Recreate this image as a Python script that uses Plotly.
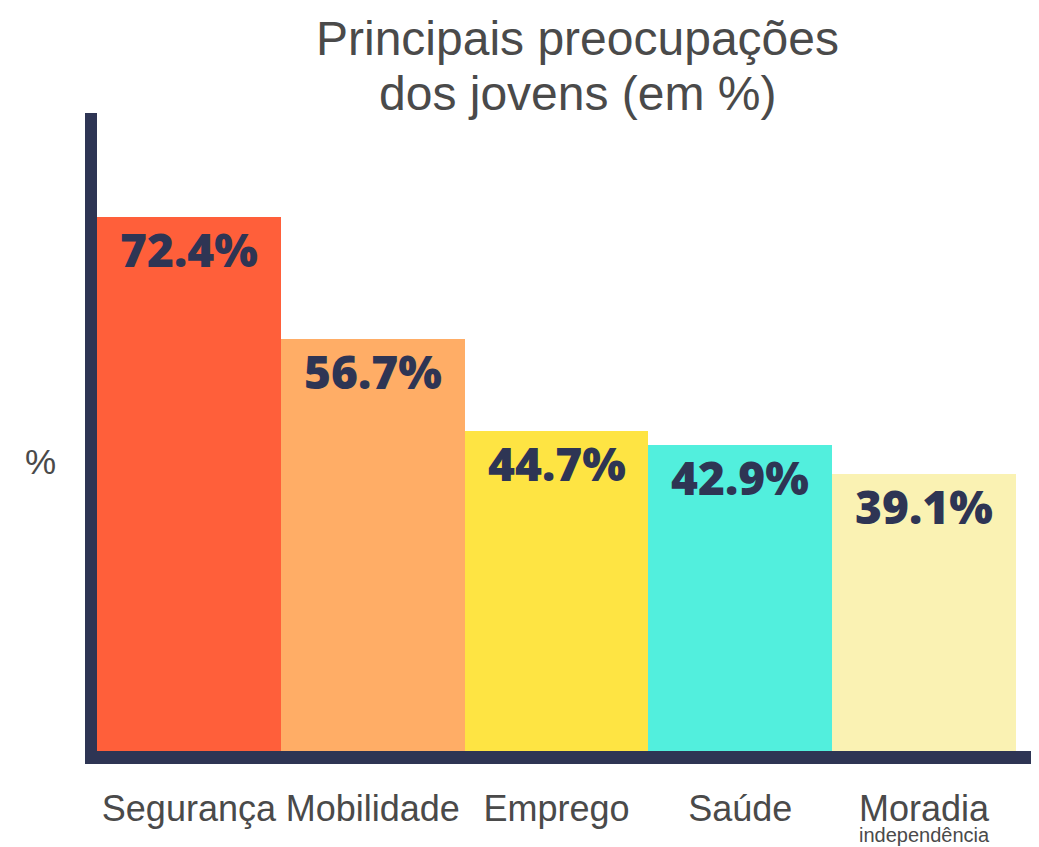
import plotly.graph_objects as go

categories = ["Segurança", "Mobilidade", "Emprego", "Saúde", "Moradia"]
values = [72.4, 56.7, 44.7, 42.9, 39.1]
bar_colors = ["#FF5F3A", "#FFAD66", "#FEE443", "#52EFDD", "#FAF2B3"]
value_labels = [f"{v:.1f}%" for v in values]
title_line1 = "Principais preocupações"
title_line2 = "dos jovens (em %)"
y_title = "%"
sub_label = "independência"

AXIS_COLOR = "#2E3554"
TEXT_COLOR = "#4A4A4A"
PLOT_H = 638

fig = go.Figure()
fig.add_trace(go.Bar(
    x=categories, y=values,
    marker=dict(color=bar_colors, line=dict(width=0)),
    hoverinfo="skip",
))

for c, v, t in zip(categories, values, value_labels):
    fig.add_annotation(
        x=c, y=v, xref="x", yref="y", text=t, showarrow=False,
        yanchor="top", yshift=1,
        font=dict(family="Open Sans", size=46, color=AXIS_COLOR, weight=800),
    )

fig.add_annotation(
    x=categories[-1], xref="x", y=0, yref="paper", yshift=-97, yanchor="bottom",
    text=sub_label, showarrow=False,
    font=dict(family="Liberation Sans", size=20, color=TEXT_COLOR),
)

# title lines
fig.add_annotation(
    x=0.523, xref="paper", y=1, yref="paper", yshift=75, yanchor="middle",
    text=title_line1, showarrow=False,
    font=dict(family="Liberation Sans", size=48, color=TEXT_COLOR),
)
fig.add_annotation(
    x=0.523, xref="paper", y=1, yref="paper", yshift=20, yanchor="middle",
    text=title_line2, showarrow=False,
    font=dict(family="Liberation Sans", size=48, color=TEXT_COLOR),
)
fig.add_annotation(
    x=0, xref="paper", xshift=-57, xanchor="center", y=0.454, yref="paper",
    text=y_title, showarrow=False,
    font=dict(family="Liberation Sans", size=35, color=TEXT_COLOR),
)

# axis lines
fig.add_shape(type="rect", xref="paper", yref="paper",
              xsizemode="pixel", ysizemode="pixel", xanchor=0, yanchor=0,
              x0=-12, x1=0, y0=-13, y1=PLOT_H,
              fillcolor=AXIS_COLOR, line=dict(width=0), layer="above")
fig.add_shape(type="rect", xref="paper", yref="paper",
              xsizemode="pixel", ysizemode="pixel", xanchor=0, yanchor=0,
              x0=-12, x1=960, y0=-13, y1=0,
              fillcolor=AXIS_COLOR, line=dict(width=0), layer="above")

fig.update_layout(
    width=1031, height=839,
    margin=dict(l=89, r=23, t=105, b=96),
    paper_bgcolor="white", plot_bgcolor="white",
    bargap=0, showlegend=False,
    xaxis=dict(showgrid=False, zeroline=False, showline=False,
               ticks="outside", ticklen=26, tickcolor="rgba(0,0,0,0)",
               tickfont=dict(family="Liberation Sans", size=36, color=TEXT_COLOR)),
    yaxis=dict(range=[3.3, 85.9], showgrid=False, zeroline=False,
               showline=False, showticklabels=False, ticks=""),
)

fig.write_html("out.html")
